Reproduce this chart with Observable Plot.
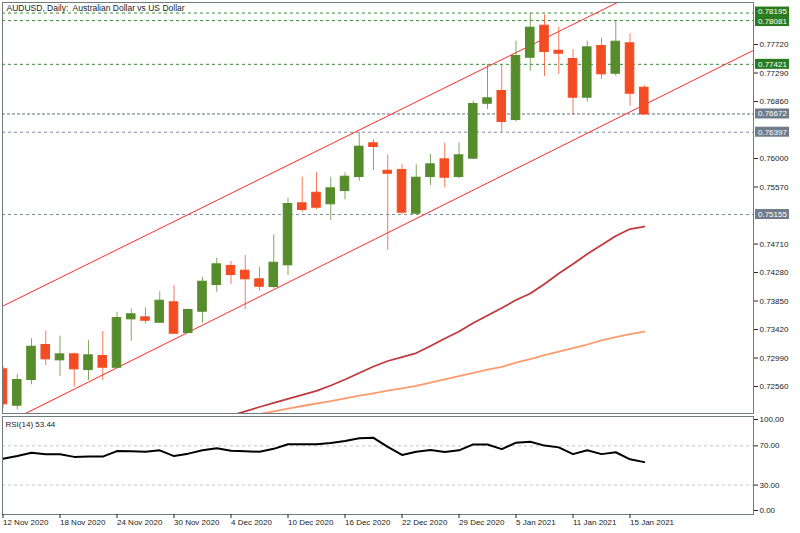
<!DOCTYPE html>
<html><head><meta charset="utf-8">
<script src="https://cdn.jsdelivr.net/npm/d3@7"></script>
<script src="https://cdn.jsdelivr.net/npm/@observablehq/plot@0.6"></script>
<style>
html,body{margin:0;padding:0;background:#fff;}
#chart{position:relative;width:800px;height:533px;overflow:hidden;background:#fff;}
#chart svg{position:absolute;left:0;overflow:visible;}
</style></head><body><div id="chart"></div>
<script>
// ---- data ----
const title = "AUDUSD, Daily:\u00a0 Australian Dollar vs US Dollar";
const rsiLabel = "RSI(14) 53.44";
const opens  = [0.72812,0.72278,0.72666,0.73179,0.72963,0.73038,0.72816,0.73013,0.72851,0.73581,0.73596,0.73530,0.73823,0.73375,0.73696,0.74099,0.74371,0.74300,0.74170,0.74069,0.74396,0.75317,0.75476,0.75317,0.75517,0.75728,0.76222,0.75808,0.75819,0.75175,0.75728,0.75980,0.75728,0.76005,0.76834,0.77011,0.76588,0.77528,0.77996,0.77619,0.77494,0.76925,0.77690,0.77287,0.77731,0.77061];
const highs  = [0.72862,0.72741,0.73280,0.73400,0.73319,0.73062,0.73254,0.73390,0.73681,0.73732,0.73747,0.73989,0.74084,0.73732,0.74209,0.74496,0.74446,0.74536,0.74360,0.74849,0.75401,0.75718,0.75784,0.75718,0.75784,0.76392,0.76282,0.76056,0.75910,0.75905,0.76060,0.76231,0.76237,0.76865,0.77421,0.77403,0.77770,0.78195,0.78168,0.77981,0.77645,0.77770,0.77815,0.78081,0.77882,0.77101];
const lows   = [0.72228,0.72208,0.72586,0.72877,0.72715,0.72549,0.72650,0.72650,0.72839,0.73243,0.73506,0.73515,0.73352,0.73360,0.73515,0.73983,0.74099,0.73722,0.73998,0.74039,0.74235,0.75190,0.75226,0.75065,0.75377,0.75657,0.75819,0.74612,0.75155,0.75140,0.75593,0.75558,0.75694,0.75985,0.76739,0.76397,0.76551,0.77317,0.77237,0.77267,0.76649,0.76850,0.77192,0.77242,0.76789,0.76660];
const closes = [0.72299,0.72650,0.73153,0.72978,0.73038,0.72827,0.73023,0.72851,0.73586,0.73642,0.73560,0.73847,0.73364,0.73707,0.74134,0.74396,0.74250,0.74185,0.74073,0.74420,0.75306,0.75231,0.75265,0.75543,0.75718,0.76171,0.76181,0.75778,0.75190,0.75703,0.75905,0.75718,0.76041,0.76815,0.76901,0.76558,0.77539,0.77966,0.77614,0.77589,0.76925,0.77670,0.77278,0.77755,0.76985,0.76672];
// moving averages (start bar index, values)
const maDarkStart = 16;
const maDark = [0.72122,0.72186,0.72251,0.72314,0.72374,0.72435,0.72495,0.72575,0.72666,0.72764,0.72862,0.72945,0.73005,0.73065,0.73171,0.73284,0.73390,0.73518,0.73631,0.73744,0.73865,0.73963,0.74107,0.74265,0.74408,0.74559,0.74695,0.74831,0.74936,0.74974];
const maLightStart = 17;
const maLight = [0.72107,0.72145,0.72186,0.72228,0.72266,0.72304,0.72341,0.72382,0.72421,0.72457,0.72497,0.72533,0.72571,0.72620,0.72669,0.72718,0.72767,0.72816,0.72857,0.72922,0.72975,0.73035,0.73088,0.73141,0.73194,0.73257,0.73307,0.73352,0.73390];
// RSI(14)
const rsi = [56.8,59.6,63.05,61.4,61.4,58.8,59.3,59.1,64.7,64.5,64.0,65.5,59.6,62.1,65.5,67.5,65.0,64.5,64.0,67.0,71.7,71.7,71.7,73.0,75.0,77.9,78.2,69.0,60.8,64.0,65.7,63.7,65.5,71.5,71.5,66.7,73.3,74.2,70.3,68.5,61.6,65.5,61.6,63.5,56.3,53.44];
// channel trend lines: anchor points [bar index, price]
const upperChannel = [[-1,0.73669],[45,0.78554]];
const lowerChannel = [[0,0.71984],[53,0.77669]];
// horizontal levels
const greenLevels = [0.78195,0.78081,0.77421];
const grayLevels = [0.76397,0.75155];
const lastPrice = 0.76672;
// axes
const priceTicks = [0.72560,0.72990,0.73420,0.73850,0.74280,0.74710,0.75570,0.76000,0.76860,0.77290,0.77720];
const rsiLevels = [70,30];
const dateTickIdx = [0,4,8,12,16,20,24,28,32,36,40,44];
const dateLabels = ["12 Nov 2020","18 Nov 2020","24 Nov 2020","30 Nov 2020","4 Dec 2020","10 Dec 2020","16 Dec 2020","22 Dec 2020","29 Dec 2020","5 Jan 2021","11 Jan 2021","15 Jan 2021"];

// ---- build ----
const FONT = '"Liberation Sans", Arial, sans-serif';
const xDomain = [-0.035, 52.665];
const yDomain = [0.72153, 0.78354];
const GREEN = "#568c2c", RED = "#f44c22";
const candles = opens.map((o, i) => ({i, o, h: highs[i], l: lows[i], c: closes[i], up: closes[i] >= o}));
const darkPts = maDark.map((v, k) => ({i: maDarkStart + k, v}));
const lightPts = maLight.map((v, k) => ({i: maLightStart + k, v}));
const boxes = [
  ...greenLevels.map(v => ({v, bg: "#2a7b1e"})),
  {v: lastPrice, bg: "#6e7c8b"},
  ...grayLevels.map(v => ({v, bg: "#6e7c8b"}))
];

const main = Plot.plot({
  width: 800, height: 416,
  marginTop: 2, marginRight: 47, marginBottom: 3, marginLeft: 2,
  x: {domain: xDomain, axis: null},
  y: {domain: yDomain, axis: null},
  style: {fontFamily: FONT, fontSize: "8px", color: "#222", background: "transparent"},
  marks: [
    Plot.ruleY(greenLevels, {stroke: "#3a8a3a", strokeDasharray: "3,3"}),
    Plot.ruleY(grayLevels, {stroke: "#7d8b99", strokeDasharray: "3,3"}),
    Plot.ruleY([lastPrice], {stroke: "#5f6f80", strokeDasharray: "3,2"}),
    Plot.line(upperChannel, {x: d => d[0], y: d => d[1], stroke: "#ff2a2a", strokeWidth: 1, clip: true}),
    Plot.line(lowerChannel, {x: d => d[0], y: d => d[1], stroke: "#ff2a2a", strokeWidth: 1, clip: true}),
    Plot.line(darkPts, {x: "i", y: "v", stroke: "#c0393b", strokeWidth: 1.8, clip: true}),
    Plot.line(lightPts, {x: "i", y: "v", stroke: "#ff9a6c", strokeWidth: 1.8, clip: true}),
    Plot.ruleX(candles, {x: "i", y1: "l", y2: "h", stroke: d => d.up ? GREEN : RED, strokeOpacity: 0.75, clip: true}),
    Plot.rect(candles, {x1: d => d.i - 0.3, x2: d => d.i + 0.3, y1: "o", y2: "c",
      fill: d => d.up ? GREEN : RED, stroke: d => d.up ? GREEN : RED, insetTop: -0.5, insetBottom: -0.5, clip: true}),
    Plot.frame({stroke: "#6f7d7e"}),
    Plot.axisY({anchor: "right", ticks: priceTicks, tickSize: 4, tickPadding: 2, tickFormat: d => d.toFixed(5)}),
    Plot.text([title], {frameAnchor: "top-left", dx: 4, dy: 2, textAnchor: "start", lineAnchor: "top", fill: "#222", fontSize: 8.5})
  ]
});

// highlighted price labels on the right axis, placed with the plot's own scales
{
  const sx = main.scale("x"), sy = main.scale("y");
  const x0 = Math.round(sx.apply(xDomain[1])) + 2;
  const placed = boxes.map(b => ({...b, y: sy.apply(b.v)})).sort((a, b) => a.y - b.y);
  const GAP = 9.5;
  for (let k = 1; k < placed.length; k++) {
    const d = placed[k].y - placed[k - 1].y;
    if (d < GAP) { const s = (GAP - d) / 2; placed[k - 1].y -= s; placed[k].y += s; }
  }
  const g = d3.select(main).append("g")
    .attr("font-family", FONT).attr("font-size", 8).attr("text-anchor", "start");
  for (const b of placed) {
    g.append("rect").attr("x", x0).attr("y", b.y - 5).attr("width", 34).attr("height", 10).attr("fill", b.bg);
    g.append("text").attr("x", x0 + 3).attr("y", b.y).attr("dy", "0.36em").attr("fill", "#fff").text(b.v.toFixed(5));
  }
}

const rsiPlot = Plot.plot({
  width: 800, height: 120,
  marginTop: 3, marginRight: 47, marginBottom: 19, marginLeft: 2,
  x: {domain: xDomain},
  y: {domain: [0, 100]},
  style: {fontFamily: FONT, fontSize: "8px", color: "#222", background: "transparent"},
  marks: [
    Plot.ruleY(rsiLevels, {stroke: "#c4c4c4", strokeDasharray: "3,3"}),
    Plot.line(rsi, {x: (d, i) => i, y: d => d, stroke: "#000", strokeWidth: 2}),
    Plot.frame({stroke: "#6f7d7e"}),
    Plot.axisY({anchor: "right", ticks: [70, 30], tickSize: 4, tickPadding: 2, tickFormat: d => d.toFixed(2)}),
    Plot.axisY({anchor: "right", ticks: [100], tickSize: 4, tickPadding: 2, dy: 3, tickFormat: d => d.toFixed(2)}),
    Plot.axisY({anchor: "right", ticks: [0], tickSize: 4, tickPadding: 2, dy: -4, tickFormat: d => d.toFixed(2)}),
    Plot.axisX({ticks: dateTickIdx, tickSize: 4, tickPadding: 1, textAnchor: "start",
      tickFormat: d => dateLabels[dateTickIdx.indexOf(d)]}),
    Plot.text([rsiLabel], {frameAnchor: "top-left", dx: 3, dy: 5, textAnchor: "start", lineAnchor: "top", fill: "#222"})
  ]
});

const host = document.getElementById("chart");
main.style.top = "0px";
rsiPlot.style.top = "413px";
host.appendChild(main);
host.appendChild(rsiPlot);
</script></body></html>
